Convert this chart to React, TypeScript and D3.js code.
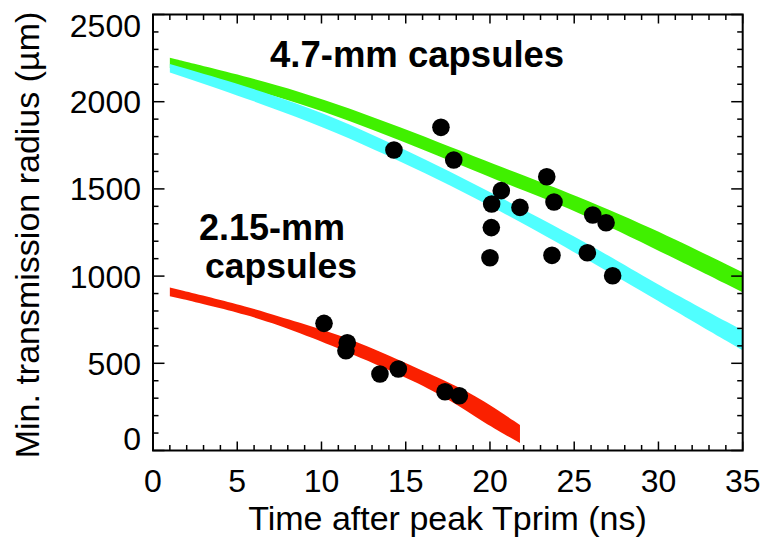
import React from "react";
import * as d3 from "d3";

// Scatter data (time ns, radius µm)
const bigT = [17.09, 14.3, 17.85, 23.37, 20.67, 20.1, 21.78, 23.8, 26.1, 26.89, 20.08, 20.0, 23.68, 25.78, 27.28];
const bigR = [1853, 1723, 1666, 1570, 1490, 1413, 1394, 1425, 1350, 1306, 1278, 1105, 1119, 1134, 1002];
const smallT = [10.15, 11.53, 11.45, 13.47, 14.56, 17.33, 18.18];
const smallR = [729, 618, 572, 439, 467, 337, 314];

// Model bands: time, lower, upper
const greenT = [1.0, 2.79, 8.72, 14.66, 20.6, 24.55, 29.5, 34.96];
const greenLo = [2193, 2145, 2000, 1780, 1541, 1398, 1172, 909];
const greenHi = [2252, 2210, 2065, 1857, 1627, 1484, 1283, 1023];
const cyanT = [1.0, 8.72, 14.66, 20.6, 26.53, 29.5, 34.96];
const cyanLo = [2168, 1915, 1663, 1379, 1054, 885, 576];
const cyanHi = [2216, 2000, 1742, 1455, 1150, 975, 691];
const redT = [1.0, 5.76, 8.72, 11.69, 15.65, 17.63, 19.59, 21.78];
const redLo = [885, 777, 674, 559, 393, 288, 163, 43];
const redHi = [935, 823, 731, 645, 473, 387, 290, 146];

const xTicks = [0, 5, 10, 15, 20, 25, 30, 35];
const yTicks = [0, 500, 1000, 1500, 2000, 2500];

const W = 763, H = 539;
const L = 153, R = 742.7, T = 14.5, B = 450.5;
const FONT = "'Liberation Sans', Arial, Helvetica, sans-serif";

export default function App() {
  const x = d3.scaleLinear().domain([0, 35]).range([L, R]);
  const y = d3.scaleLinear().domain([0, 2500]).range([B, T]);

  const band = (ts: number[], lo: number[], hi: number[]) =>
    d3
      .area<number>()
      .x((_, i) => x(ts[i]))
      .y0((_, i) => y(lo[i]))
      .y1((_, i) => y(hi[i]))
      .curve(d3.curveBasis)(ts) || "";

  const xMinor = d3.range(0, 36, 1);
  const yMinor = d3.range(0, 2501, 100);

  return (
    <svg width={W} height={H} style={{ position: "absolute", left: 0, top: 0, background: "#fff" }} fontFamily={FONT}>
      <rect width={W} height={H} fill="#fff" />
      <path d={band(greenT, greenLo, greenHi)} fill="#40f000" />
      <path d={band(cyanT, cyanLo, cyanHi)} fill="#50ffff" />
      <path d={band(redT, redLo, redHi)} fill="#fa2000" />
      {bigT.map((t, i) => (
        <circle key={"b" + i} cx={x(t)} cy={y(bigR[i])} r={8.8} fill="#000" />
      ))}
      {smallT.map((t, i) => (
        <circle key={"s" + i} cx={x(t)} cy={y(smallR[i])} r={8.8} fill="#000" />
      ))}
      {/* frame */}
      <rect x={L} y={T} width={R - L} height={B - T} fill="none" stroke="#000" strokeWidth={2} />
      {xMinor.map((v) => {
        const major = v % 5 === 0;
        const len = major ? 9 : 5.5;
        return (
          <g key={"xt" + v} stroke="#000" strokeWidth={1.5}>
            <line x1={x(v)} x2={x(v)} y1={B} y2={B - len} />
            <line x1={x(v)} x2={x(v)} y1={T} y2={T + len} />
          </g>
        );
      })}
      {yMinor.map((v) => {
        const major = v % 500 === 0;
        const len = major ? 11.5 : 5.5;
        return (
          <g key={"yt" + v} stroke="#000" strokeWidth={1.5}>
            <line x1={L} x2={L + len} y1={y(v)} y2={y(v)} />
            <line x1={R} x2={R - len} y1={y(v)} y2={y(v)} />
          </g>
        );
      })}
      {xTicks.map((v) => (
        <text key={"xl" + v} x={x(v)} y={492} fontSize={32} textAnchor="middle" fill="#000">
          {v}
        </text>
      ))}
      {yTicks.map((v) => (
        <text
          key={"yl" + v}
          x={141}
          y={Math.min(Math.max(y(v), 25), 438)}
          dy="0.36em"
          fontSize={32}
          textAnchor="end"
          fill="#000"
        >
          {v}
        </text>
      ))}
      <text x={(245 + 650) / 2} y={530} fontSize={34} textAnchor="middle" fill="#000">
        Time after peak Tprim (ns)
      </text>
      <text
        transform={`translate(39, ${235}) rotate(-90)`}
        fontSize={34}
        textAnchor="middle"
        fill="#000"
      >
        Min. transmission radius (µm)
      </text>
      <text x={270} y={66.7} fontSize={36.5} fontWeight="bold" fill="#000">
        4.7-mm capsules
      </text>
      <text x={199} y={240} fontSize={36} fontWeight="bold" fill="#000">
        2.15-mm
      </text>
      <text x={205} y={278} fontSize={35.5} fontWeight="bold" fill="#000">
        capsules
      </text>
    </svg>
  );
}
